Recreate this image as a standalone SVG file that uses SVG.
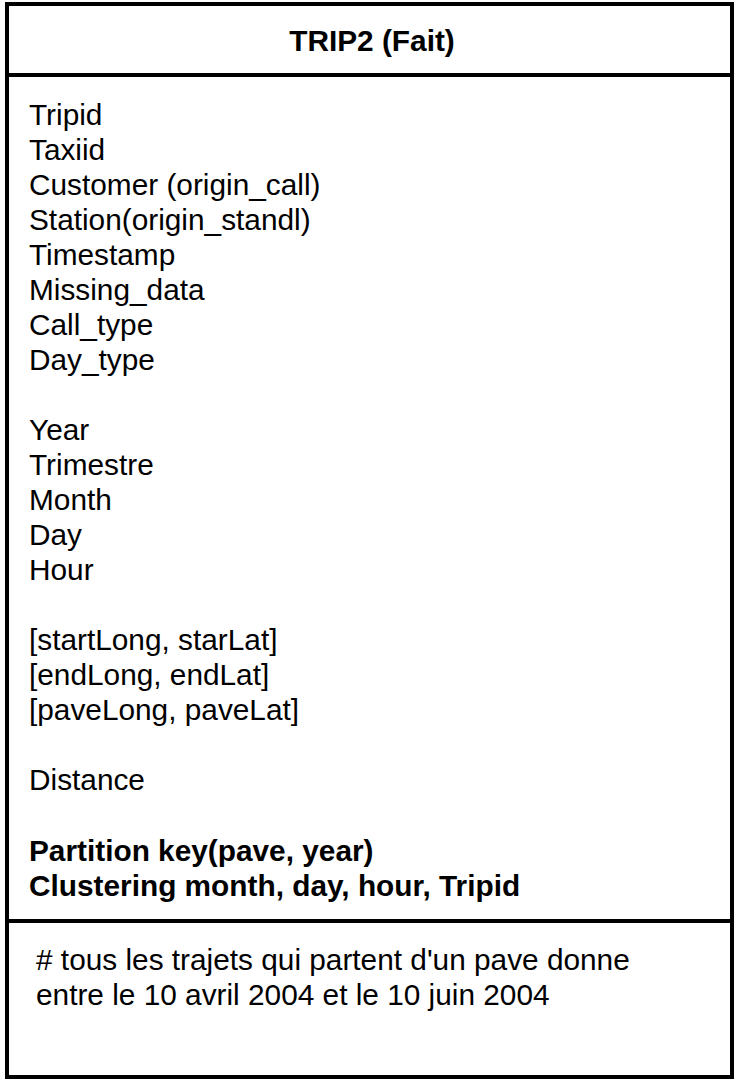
<svg xmlns="http://www.w3.org/2000/svg" width="740" height="1080" viewBox="0 0 740 1080">
<style>
.t{font-family:"Liberation Sans",Arial,sans-serif;font-size:29.8px;fill:#000}
.b{font-weight:bold}
.frame{fill:#fff;stroke:#000;stroke-width:4}
</style>
<rect width="740" height="1080" fill="#fff"/>
<g id="trip2">
<rect class="frame" x="7" y="4" width="725" height="1073"/>
<line x1="7" y1="75" x2="732" y2="75" stroke="#000" stroke-width="4"/>
<line x1="7" y1="921" x2="732" y2="921" stroke="#000" stroke-width="4"/>
<text class="t b" x="372" y="51" text-anchor="middle">TRIP2 (Fait)</text>
<text class="t" x="29" y="125">Tripid</text>
<text class="t" x="29" y="160">Taxiid</text>
<text class="t" x="29" y="195">Customer (origin_call)</text>
<text class="t" x="29" y="230">Station(origin_standl)</text>
<text class="t" x="29" y="265">Timestamp</text>
<text class="t" x="29" y="300">Missing_data</text>
<text class="t" x="29" y="335">Call_type</text>
<text class="t" x="29" y="370">Day_type</text>
<text class="t" x="29" y="440">Year</text>
<text class="t" x="29" y="475">Trimestre</text>
<text class="t" x="29" y="510">Month</text>
<text class="t" x="29" y="545">Day</text>
<text class="t" x="29" y="580">Hour</text>
<text class="t" x="29" y="650">[startLong, starLat]</text>
<text class="t" x="29" y="685">[endLong, endLat]</text>
<text class="t" x="29" y="720">[paveLong, paveLat]</text>
<text class="t" x="29" y="790">Distance</text>
<text class="t b" x="29" y="861">Partition key(pave, year)</text>
<text class="t b" x="29" y="896">Clustering month, day, hour, Tripid</text>
<text class="t" x="36" y="970">#&#160;tous les trajets qui partent d'un pave donne</text>
<text class="t" x="36" y="1005">entre le 10 avril 2004 et le 10 juin 2004</text>
</g>
</svg>
